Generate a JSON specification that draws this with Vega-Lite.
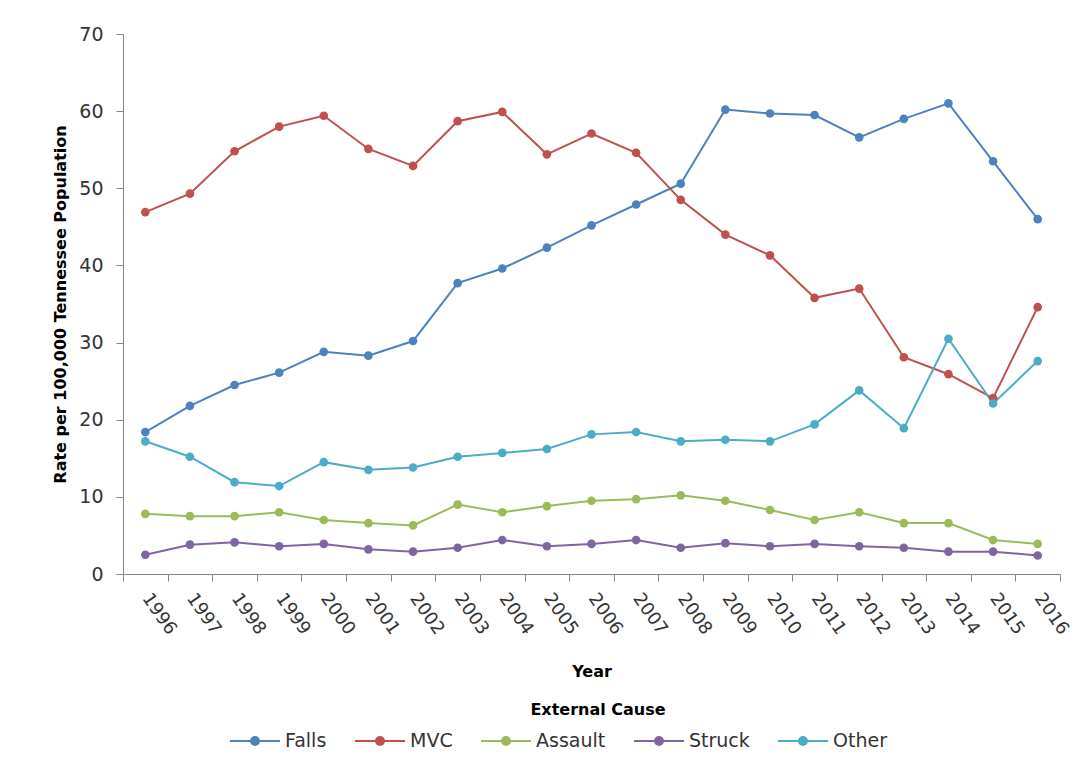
{
  "$schema": "https://vega.github.io/schema/vega-lite/v6.json",
  "width": 937,
  "height": 540,
  "autosize": {"type": "none"},
  "padding": {"left": 123, "top": 34, "right": 28, "bottom": 197},
  "background": "white",
  "config": {
    "view": {"stroke": null},
    "font": "DejaVu Sans",
    "axis": {"labelFont": "DejaVu Sans", "titleFont": "DejaVu Sans"},
    "legend": {"labelFont": "DejaVu Sans", "titleFont": "DejaVu Sans"}
  },
  "data": {
    "values": [
      {"year": "1996", "cause": "Falls", "rate": 18.4},
      {"year": "1997", "cause": "Falls", "rate": 21.8},
      {"year": "1998", "cause": "Falls", "rate": 24.5},
      {"year": "1999", "cause": "Falls", "rate": 26.1},
      {"year": "2000", "cause": "Falls", "rate": 28.8},
      {"year": "2001", "cause": "Falls", "rate": 28.3},
      {"year": "2002", "cause": "Falls", "rate": 30.2},
      {"year": "2003", "cause": "Falls", "rate": 37.7},
      {"year": "2004", "cause": "Falls", "rate": 39.6},
      {"year": "2005", "cause": "Falls", "rate": 42.3},
      {"year": "2006", "cause": "Falls", "rate": 45.2},
      {"year": "2007", "cause": "Falls", "rate": 47.9},
      {"year": "2008", "cause": "Falls", "rate": 50.6},
      {"year": "2009", "cause": "Falls", "rate": 60.2},
      {"year": "2010", "cause": "Falls", "rate": 59.7},
      {"year": "2011", "cause": "Falls", "rate": 59.5},
      {"year": "2012", "cause": "Falls", "rate": 56.6},
      {"year": "2013", "cause": "Falls", "rate": 59.0},
      {"year": "2014", "cause": "Falls", "rate": 61.0},
      {"year": "2015", "cause": "Falls", "rate": 53.5},
      {"year": "2016", "cause": "Falls", "rate": 46.0},
      {"year": "1996", "cause": "MVC", "rate": 46.9},
      {"year": "1997", "cause": "MVC", "rate": 49.3},
      {"year": "1998", "cause": "MVC", "rate": 54.8},
      {"year": "1999", "cause": "MVC", "rate": 58.0},
      {"year": "2000", "cause": "MVC", "rate": 59.4},
      {"year": "2001", "cause": "MVC", "rate": 55.1},
      {"year": "2002", "cause": "MVC", "rate": 52.9},
      {"year": "2003", "cause": "MVC", "rate": 58.7},
      {"year": "2004", "cause": "MVC", "rate": 59.9},
      {"year": "2005", "cause": "MVC", "rate": 54.4},
      {"year": "2006", "cause": "MVC", "rate": 57.1},
      {"year": "2007", "cause": "MVC", "rate": 54.6},
      {"year": "2008", "cause": "MVC", "rate": 48.5},
      {"year": "2009", "cause": "MVC", "rate": 44.0},
      {"year": "2010", "cause": "MVC", "rate": 41.3},
      {"year": "2011", "cause": "MVC", "rate": 35.8},
      {"year": "2012", "cause": "MVC", "rate": 37.0},
      {"year": "2013", "cause": "MVC", "rate": 28.1},
      {"year": "2014", "cause": "MVC", "rate": 25.9},
      {"year": "2015", "cause": "MVC", "rate": 22.8},
      {"year": "2016", "cause": "MVC", "rate": 34.6},
      {"year": "1996", "cause": "Assault", "rate": 7.8},
      {"year": "1997", "cause": "Assault", "rate": 7.5},
      {"year": "1998", "cause": "Assault", "rate": 7.5},
      {"year": "1999", "cause": "Assault", "rate": 8.0},
      {"year": "2000", "cause": "Assault", "rate": 7.0},
      {"year": "2001", "cause": "Assault", "rate": 6.6},
      {"year": "2002", "cause": "Assault", "rate": 6.3},
      {"year": "2003", "cause": "Assault", "rate": 9.0},
      {"year": "2004", "cause": "Assault", "rate": 8.0},
      {"year": "2005", "cause": "Assault", "rate": 8.8},
      {"year": "2006", "cause": "Assault", "rate": 9.5},
      {"year": "2007", "cause": "Assault", "rate": 9.7},
      {"year": "2008", "cause": "Assault", "rate": 10.2},
      {"year": "2009", "cause": "Assault", "rate": 9.5},
      {"year": "2010", "cause": "Assault", "rate": 8.3},
      {"year": "2011", "cause": "Assault", "rate": 7.0},
      {"year": "2012", "cause": "Assault", "rate": 8.0},
      {"year": "2013", "cause": "Assault", "rate": 6.6},
      {"year": "2014", "cause": "Assault", "rate": 6.6},
      {"year": "2015", "cause": "Assault", "rate": 4.4},
      {"year": "2016", "cause": "Assault", "rate": 3.9},
      {"year": "1996", "cause": "Struck", "rate": 2.5},
      {"year": "1997", "cause": "Struck", "rate": 3.8},
      {"year": "1998", "cause": "Struck", "rate": 4.1},
      {"year": "1999", "cause": "Struck", "rate": 3.6},
      {"year": "2000", "cause": "Struck", "rate": 3.9},
      {"year": "2001", "cause": "Struck", "rate": 3.2},
      {"year": "2002", "cause": "Struck", "rate": 2.9},
      {"year": "2003", "cause": "Struck", "rate": 3.4},
      {"year": "2004", "cause": "Struck", "rate": 4.4},
      {"year": "2005", "cause": "Struck", "rate": 3.6},
      {"year": "2006", "cause": "Struck", "rate": 3.9},
      {"year": "2007", "cause": "Struck", "rate": 4.4},
      {"year": "2008", "cause": "Struck", "rate": 3.4},
      {"year": "2009", "cause": "Struck", "rate": 4.0},
      {"year": "2010", "cause": "Struck", "rate": 3.6},
      {"year": "2011", "cause": "Struck", "rate": 3.9},
      {"year": "2012", "cause": "Struck", "rate": 3.6},
      {"year": "2013", "cause": "Struck", "rate": 3.4},
      {"year": "2014", "cause": "Struck", "rate": 2.9},
      {"year": "2015", "cause": "Struck", "rate": 2.9},
      {"year": "2016", "cause": "Struck", "rate": 2.4},
      {"year": "1996", "cause": "Other", "rate": 17.2},
      {"year": "1997", "cause": "Other", "rate": 15.2},
      {"year": "1998", "cause": "Other", "rate": 11.9},
      {"year": "1999", "cause": "Other", "rate": 11.4},
      {"year": "2000", "cause": "Other", "rate": 14.5},
      {"year": "2001", "cause": "Other", "rate": 13.5},
      {"year": "2002", "cause": "Other", "rate": 13.8},
      {"year": "2003", "cause": "Other", "rate": 15.2},
      {"year": "2004", "cause": "Other", "rate": 15.7},
      {"year": "2005", "cause": "Other", "rate": 16.2},
      {"year": "2006", "cause": "Other", "rate": 18.1},
      {"year": "2007", "cause": "Other", "rate": 18.4},
      {"year": "2008", "cause": "Other", "rate": 17.2},
      {"year": "2009", "cause": "Other", "rate": 17.4},
      {"year": "2010", "cause": "Other", "rate": 17.2},
      {"year": "2011", "cause": "Other", "rate": 19.4},
      {"year": "2012", "cause": "Other", "rate": 23.8},
      {"year": "2013", "cause": "Other", "rate": 18.9},
      {"year": "2014", "cause": "Other", "rate": 30.5},
      {"year": "2015", "cause": "Other", "rate": 22.1},
      {"year": "2016", "cause": "Other", "rate": 27.6}
    ]
  },
  "mark": {"type": "line", "strokeWidth": 2, "point": {"filled": true, "size": 75, "opacity": 1}},
  "encoding": {
    "x": {
      "field": "year",
      "type": "ordinal",
      "bandPosition": 0.5,
      "scale": {"type": "band", "paddingInner": 0, "paddingOuter": 0},
      "axis": {
        "title": "Year",
        "titleFontSize": 16,
        "titleFontWeight": "bold",
        "titleColor": "#000000",
        "titlePadding": 26,
        "tickBand": "extent",
        "labelAngle": 55,
        "labelAlign": "left",
        "labelBaseline": "middle",
        "labelFontSize": 18,
        "labelColor": "#333333",
        "labelPadding": 14,
        "tickSize": 7,
        "tickColor": "#868686",
        "domainColor": "#868686",
        "grid": false
      }
    },
    "y": {
      "field": "rate",
      "type": "quantitative",
      "scale": {"domain": [0, 70], "nice": false, "zero": true},
      "axis": {
        "title": "Rate per 100,000 Tennessee Population",
        "titleFontSize": 16,
        "titleFontWeight": "bold",
        "titleColor": "#000000",
        "titlePadding": 10,
        "values": [0, 10, 20, 30, 40, 50, 60, 70],
        "labelFontSize": 19,
        "labelColor": "#333333",
        "labelPadding": 13,
        "tickSize": 7,
        "tickColor": "#868686",
        "domainColor": "#868686",
        "grid": false
      }
    },
    "color": {
      "field": "cause",
      "type": "nominal",
      "scale": {
        "domain": ["Falls", "MVC", "Assault", "Struck", "Other"],
        "range": ["#4F81BD", "#C0504D", "#9BBB59", "#8064A2", "#4BACC6"]
      },
      "legend": {
        "title": "External Cause",
        "orient": "none",
        "legendX": 106,
        "legendY": 668,
        "direction": "horizontal",
        "titleAnchor": "middle",
        "titleFontSize": 16,
        "titleFontWeight": "bold",
        "titleColor": "#000000",
        "titlePadding": -3,
        "labelFontSize": 19,
        "labelColor": "#333333",
        "labelOffset": 4,
        "columnPadding": 24,
        "symbolType": "M-1,0H1M-0.16,0a0.16,0.16 0 1,0 0.32,0a0.16,0.16 0 1,0 -0.32,0",
        "symbolSize": 2500,
        "symbolStrokeWidth": 2,
        "encode": {
          "symbols": {"update": {"fill": {"scale": "color", "field": "value"}}},
          "title": {"update": {"dx": {"value": 40}}}
        }
      }
    }
  }
}
